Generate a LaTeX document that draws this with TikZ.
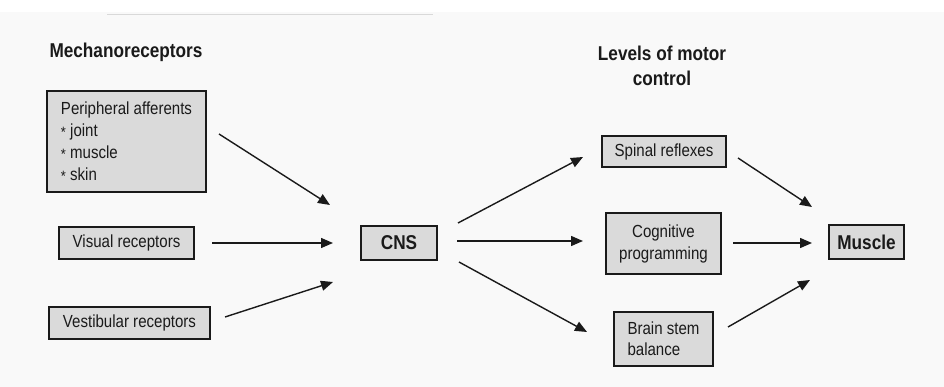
\documentclass[tikz,border=0pt]{standalone}
\usepackage{fontspec}
\setmainfont{Liberation Sans}[FakeStretch=0.86]
\usetikzlibrary{arrows.meta}
\definecolor{bg}{HTML}{F9F9F9}
\definecolor{boxfill}{HTML}{DADADA}
\definecolor{ink}{HTML}{1A1A1A}
\newcommand{\bulletstar}{\raisebox{-1.5pt}{\fontsize{15}{15}\selectfont *}\ }
\tikzset{
  box/.style={draw=ink, fill=boxfill, line width=1.4pt, inner sep=0pt,
    font=\fontsize{17.5}{22}\selectfont, text=ink},
  strongbox/.style={box, line width=2.6pt, font=\fontsize{20}{22}\selectfont\bfseries},
  title/.style={font=\fontsize{20}{25}\selectfont\bfseries, text=ink, align=center, inner sep=0pt},
  arr/.style={draw=ink, line width=1.4pt, -{Triangle[length=12pt,width=10pt]}}
}
\begin{document}
\begin{tikzpicture}[x=1pt,y=-1pt]
\useasboundingbox (0,0) rectangle (944,387);
\fill[bg] (0,0) rectangle (944,387);
\fill[white] (0,0) rectangle (944,12);
\draw[gray!30, line width=0.8pt] (107,14) -- (433,14);

\node[title] (mech) at (126,52) {Mechanoreceptors};
\node[title] (levels) at (662,65.5) {Levels of motor\\control};

\node[box, minimum width=159pt, minimum height=101pt, align=left]
  (peri) at (126.5,141.5) {Peripheral afferents\\\bulletstar joint\\\bulletstar muscle\\\bulletstar skin};
\node[box, minimum width=135pt, minimum height=32pt] (vis) at (126.5,243) {Visual receptors};
\node[box, minimum width=161pt, minimum height=32pt] (vest) at (129.5,323) {Vestibular receptors};

\node[strongbox, minimum width=76pt, minimum height=34pt] (cns) at (399,243) {CNS};

\node[box, minimum width=124pt, minimum height=31pt] (spin) at (664,151.5) {Spinal reflexes};
\node[box, minimum width=115pt, minimum height=61pt, align=center] (cog) at (663.5,243.5) {Cognitive\\programming};
\node[box, minimum width=99pt, minimum height=54pt, align=left, font=\fontsize{17.5}{21}\selectfont] (brain) at (663.5,339) {Brain stem\\balance};

\node[strongbox, minimum width=75pt, minimum height=34pt] (mus) at (866.5,242) {Muscle};

% connector end points
\coordinate (a1s) at (219,134); \coordinate (a1e) at (330,205);
\coordinate (a2s) at (212,243); \coordinate (a2e) at (333,243);
\coordinate (a3s) at (225,317); \coordinate (a3e) at (333,282);
\coordinate (b1s) at (458,223); \coordinate (b1e) at (583,157);
\coordinate (b2s) at (457,241); \coordinate (b2e) at (583,241);
\coordinate (b3s) at (459,262); \coordinate (b3e) at (587,332);
\coordinate (c1s) at (738,158); \coordinate (c1e) at (812,207);
\coordinate (c2s) at (733,243); \coordinate (c2e) at (812,243);
\coordinate (c3s) at (728,327); \coordinate (c3e) at (810,280);

\draw[arr] (a1s) -- (a1e);
\draw[arr] (a2s) -- (a2e);
\draw[arr] (a3s) -- (a3e);
\draw[arr] (b1s) -- (b1e);
\draw[arr] (b2s) -- (b2e);
\draw[arr] (b3s) -- (b3e);
\draw[arr] (c1s) -- (c1e);
\draw[arr] (c2s) -- (c2e);
\draw[arr] (c3s) -- (c3e);
\end{tikzpicture}
\end{document}
